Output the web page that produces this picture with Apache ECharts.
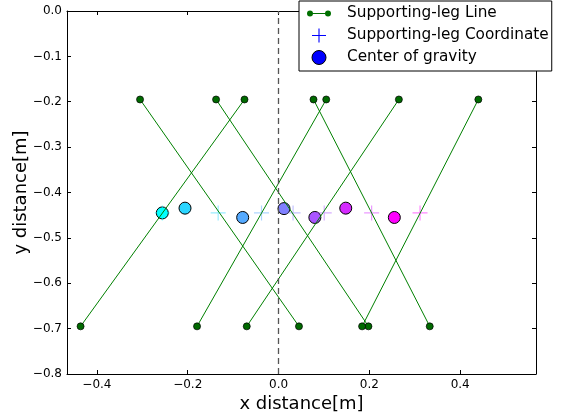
<!DOCTYPE html>
<html><head><meta charset="utf-8">
<script src="https://cdn.jsdelivr.net/npm/echarts@6/dist/echarts.min.js"></script>
<style>html,body{margin:0;padding:0;background:#fff}#c{width:570px;height:419px}</style>
</head><body><div id="c"></div>
<script>
// ---- data ----
const legTopX    = [-0.075, -0.305, 0.105, -0.1376, 0.265, 0.077, 0.440];
const legBottomX = [-0.436, 0.045, -0.1795, 0.198, -0.070, 0.333, 0.184];
const legTopY = -0.195;
const legBottomY = -0.695;
const supportX = [-0.256, -0.133, -0.0375, 0.032, 0.1006, 0.205, 0.3116];
const supportY = [-0.445, -0.445, -0.445, -0.445, -0.445, -0.445, -0.445];
const cogX = [-0.256, -0.206, -0.079, 0.012, 0.080, 0.148, 0.255];
const cogY = [-0.445, -0.4345, -0.455, -0.4355, -0.455, -0.4345, -0.455];
const xTicks = [-0.4, -0.2, 0.0, 0.2, 0.4];
const xRange = [-0.4659, 0.567];
const yRange = [-0.8, 0.0];
const yStep = 0.1;
const guideX = 0.0;
const seriesNames = ['Supporting-leg Line', 'Supporting-leg Coordinate', 'Center of gravity'];

// ---- chart ----
const FONT = 'DejaVu Sans';
const chart = echarts.init(document.getElementById('c'), null, {renderer: 'canvas'});
function cool(t, a) {
  return 'rgba(' + Math.round(255 * t) + ',' + Math.round(255 * (1 - t)) + ',255,' + a + ')';
}
const fmt = v => (Math.abs(v) < 1e-9 ? '0.0' : v.toFixed(1)).replace('-', '\u2212');
const plusPath = 'path://M7,0L8.2,0L8.2,15.2L7,15.2Z M0,7L15.2,7L15.2,8.2L0,8.2Z';
const linePath = 'path://M0,3A3,3,0,1,1,6,3A3,3,0,1,1,0,3Z M18,3A3,3,0,1,1,24,3A3,3,0,1,1,18,3Z M5,2.5L19,2.5L19,3.5L5,3.5Z';

const series = [];
for (let i = 0; i < legTopX.length; i++) {
  series.push({
    name: seriesNames[0], type: 'line',
    data: [[legTopX[i], legTopY], [legBottomX[i], legBottomY]],
    symbol: 'circle', symbolSize: 7, showSymbol: true,
    itemStyle: {color: '#006a00', borderColor: '#000', borderWidth: 0.7},
    lineStyle: {color: '#008000', width: 1},
    z: 4, animation: false, emphasis: {disabled: true}, silent: true
  });
}
series.push({
  name: seriesNames[1], type: 'scatter',
  data: supportX.map((x, i) => [x, supportY[i]]),
  symbol: plusPath, symbolSize: 15,
  itemStyle: {color: p => cool(p.dataIndex / (supportX.length - 1), 0.6)},
  z: 3, animation: false, silent: true
});
series.push({
  name: seriesNames[2], type: 'scatter',
  data: cogX.map((x, i) => [x, cogY[i]]),
  symbol: 'circle', symbolSize: 12,
  itemStyle: {color: p => cool(p.dataIndex / (cogX.length - 1), 1), borderColor: '#000', borderWidth: 1, opacity: 1},
  z: 2, animation: false, silent: true,
  markLine: {
    silent: true, symbol: 'none', animation: false,
    label: {show: false},
    lineStyle: {type: [6, 4], color: '#555', width: 1.3},
    data: [{xAxis: guideX}]
  }
});

const tickBase = {show: true, inside: true, length: 4, lineStyle: {color: '#000', width: 1}};
const axisLineBase = {show: true, onZero: false, lineStyle: {color: '#000', width: 1}};
const labelBase = {fontFamily: FONT, fontSize: 12, color: '#000', margin: 5, formatter: fmt};

chart.setOption({
  animation: false,
  backgroundColor: '#fff',
  grid: {left: 67, right: 34, top: 11, bottom: 45, containLabel: false, outerBoundsMode: 'none'},
  xAxis: [{
    type: 'value', min: xRange[0], max: xRange[1], position: 'bottom',
    axisLine: axisLineBase,
    axisTick: Object.assign({customValues: xTicks}, tickBase),
    axisLabel: Object.assign({customValues: xTicks}, labelBase),
    splitLine: {show: false},
    name: 'x distance[m]', nameLocation: 'middle', nameGap: 21, nameMoveOverlap: false,
    nameTextStyle: {fontFamily: FONT, fontSize: 18, color: '#000'}
  }, {
    type: 'value', min: xRange[0], max: xRange[1], position: 'top',
    axisLine: axisLineBase,
    axisTick: Object.assign({customValues: xTicks}, tickBase),
    axisLabel: {show: false}, splitLine: {show: false}
  }],
  yAxis: [{
    type: 'value', min: yRange[0], max: yRange[1], interval: yStep, position: 'left',
    axisLine: axisLineBase, axisTick: tickBase,
    axisLabel: labelBase, splitLine: {show: false},
    name: 'y distance[m]', nameLocation: 'middle', nameGap: 37, nameMoveOverlap: false,
    nameTextStyle: {fontFamily: FONT, fontSize: 18, color: '#000'}
  }, {
    type: 'value', min: yRange[0], max: yRange[1], interval: yStep, position: 'right',
    axisLine: axisLineBase, axisTick: tickBase,
    axisLabel: {show: false}, splitLine: {show: false}
  }],
  legend: {
    left: 299, top: 1, orient: 'vertical',
    padding: [5, 3, 6, 8], itemGap: 7, itemWidth: 24, itemHeight: 14,
    backgroundColor: '#fff', borderColor: '#000', borderWidth: 1, borderRadius: 0,
    selectedMode: false, z: 10,
    textStyle: {fontFamily: FONT, fontSize: 15.3, color: '#000', padding: [0, 0, 0, 11]},
    data: [
      {name: seriesNames[0], icon: linePath, itemStyle: {color: '#007000', borderWidth: 0}},
      {name: seriesNames[1], icon: plusPath, itemStyle: {color: '#0000ff', borderWidth: 0, opacity: 1}},
      {name: seriesNames[2], icon: 'circle', itemStyle: {color: '#0000ff', borderColor: '#000', borderWidth: 1}}
    ]
  },
  series: series
});
</script>
</body></html>
